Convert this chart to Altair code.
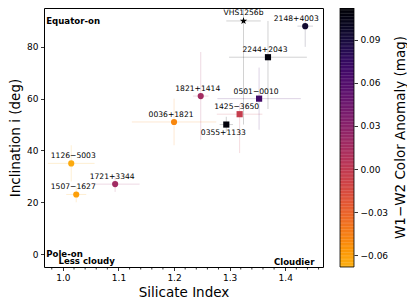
import altair as alt
import pandas as pd

# ---- data ----
names = ["VHS1256b", "2148+4003", "2244+2043", "0501−0010", "1425−3650", "0355+1133",
         "1821+1414", "0036+1821", "1126−5003", "1507−1627", "1721+3344"]
silicate = [1.325, 1.436, 1.369, 1.353, 1.318, 1.294, 1.248, 1.200, 1.015, 1.024, 1.094]
silicate_err = [0.031, 0.014, 0.070, 0.075, 0.041, 0.012, 0.014, 0.076, 0.042, 0.018, 0.044]
inclination = [90, 88, 76, 60, 54, 50, 61, 51, 35, 23, 27]
incl_err_lo = [40, 8, 20, 12, 15, 3, 17, 9, 7, 3, 3]
incl_err_hi = [5, 2, 14, 12, 4, 3, 17, 9, 7, 3, 3]
color_anomaly = [None, 0.094, 0.108, 0.068, -0.004, 0.108, 0.016, -0.050, -0.066, -0.061, 0.017]
marker = ["star", "circle", "square", "square", "square", "square",
          "circle", "circle", "circle", "circle", "circle"]

x_ticks = [1.0, 1.1, 1.2, 1.3, 1.4]
x_minor = [0.98, 1.02, 1.04, 1.06, 1.08, 1.12, 1.14, 1.16, 1.18, 1.22, 1.24, 1.26, 1.28,
           1.32, 1.34, 1.36, 1.38, 1.42, 1.44, 1.46]
y_ticks = [0, 10, 20, 30, 40, 50, 60, 70, 80, 90]
cbar_ticks = [-0.06, -0.03, 0.0, 0.03, 0.06, 0.09]
cbar_domain = [-0.068, 0.112]
cbar_title = "W1−W2 Color Anomaly (mag)"

ann_text = ["Equator-on", "Pole-on", "Less cloudy", "Cloudier"]
ann_x = [0.970, 0.970, 0.992, 1.4525]
ann_y = [90, 0, -2.6, -2.9]
ann_align = ["left", "left", "left", "right"]

# label offsets (pixels) relative to each point
label_dx = [0, -9, -3, -3, -3, -3, -3, -3, 2, -3, -3]
label_dy = [-8, -7, -7, -7, -7, 8, -7, -7, -7, -7, -7]

STAR = ("M0,-1L0.2245,-0.309L0.951,-0.309L0.363,0.118L0.588,0.809L0,0.382"
        "L-0.588,0.809L-0.363,0.118L-0.951,-0.309L-0.2245,-0.309Z")

df = pd.DataFrame({
    "name": names, "si": silicate, "si_err": silicate_err, "inc": inclination,
    "lo": incl_err_lo, "hi": incl_err_hi, "anom": color_anomaly, "marker": marker,
})
df["si_lo"] = df["si"] - df["si_err"]
df["si_hi"] = df["si"] + df["si_err"]
df["inc_lo"] = df["inc"] - df["lo"]
df["inc_hi"] = df["inc"] + df["hi"]

df_c = df[df["anom"].notna()].reset_index(drop=True)
df_s = df[df["anom"].isna()].reset_index(drop=True).drop(columns=["anom"])

FONT = "DejaVu Sans"
xdom = [0.966, 1.468]
ydom = [-5, 95]
W, H = 279, 259

xs = alt.Scale(domain=xdom, nice=False, zero=False)
ys = alt.Scale(domain=ydom, nice=False, zero=False)
xax = alt.Axis(values=x_ticks, format=".1f")
yax = alt.Axis(values=y_ticks, format="d")

X = alt.X("si:Q", scale=xs, title="Silicate Index", axis=xax)
Y = alt.Y("inc:Q", scale=ys, title="Inclination i (deg)", axis=yax)

cscale = alt.Scale(domain=cbar_domain,
                   scheme=alt.SchemeParams(name="inferno", extent=[0.82, 0]))
C = alt.Color("anom:Q", scale=cscale, legend=None)

base = alt.Chart(df_c)

xerr = base.mark_rule(opacity=0.18, strokeWidth=1).encode(
    x=alt.X("si_lo:Q", scale=xs, title="Silicate Index", axis=xax),
    x2="si_hi:Q", y=Y, color=C)
yerr = base.mark_rule(opacity=0.18, strokeWidth=1).encode(
    x=X, y=alt.Y("inc_lo:Q", scale=ys, title="Inclination i (deg)", axis=yax),
    y2="inc_hi:Q", color=C)
pts = base.mark_point(filled=True, opacity=1, size=38).encode(
    x=X, y=Y, color=C, shape=alt.Shape("marker:N", scale=None))

sbase = alt.Chart(df_s)
s_xerr = sbase.mark_rule(opacity=0.18, strokeWidth=1, color="black").encode(
    x="si_lo:Q", x2="si_hi:Q", y="inc:Q")
s_yerr = sbase.mark_rule(opacity=0.18, strokeWidth=1, color="black").encode(
    x="si:Q", y="inc_lo:Q", y2="inc_hi:Q")
s_pt = sbase.mark_point(filled=True, opacity=1, size=60, color="black", shape=STAR).encode(
    x="si:Q", y="inc:Q")

labels = []
for i, n in enumerate(names):
    labels.append(
        alt.Chart(df[df["name"] == n][["name", "si", "inc"]]).mark_text(
            font=FONT, fontSize=7.6, color="black", dx=label_dx[i], dy=label_dy[i],
            align="center", baseline="middle"
        ).encode(x="si:Q", y="inc:Q", text="name:N")
    )

ann_df = pd.DataFrame({"t": ann_text, "x": ann_x, "y": ann_y, "a": ann_align})
ann_l = alt.Chart(ann_df[ann_df["a"] == "left"]).mark_text(
    font=FONT, fontSize=8.6, fontWeight="bold", color="black", align="left", baseline="middle"
).encode(x="x:Q", y="y:Q", text="t:N")
ann_r = alt.Chart(ann_df[ann_df["a"] == "right"]).mark_text(
    font=FONT, fontSize=8.6, fontWeight="bold", color="black", align="right", baseline="middle"
).encode(x="x:Q", y="y:Q", text="t:N")

minor_df = pd.DataFrame({"m": x_minor})
minor = alt.Chart(minor_df).mark_rule(color="black", strokeWidth=0.8).encode(
    x="m:Q", y=alt.value(H), y2=alt.value(H + 2.5))

main = alt.layer(xerr, yerr, s_xerr, s_yerr, pts, s_pt, *labels, ann_l, ann_r, minor)

# ---- colorbar (own y scale, drawn right of the plot) ----
CB_X0, CB_X1 = 296, 310
cb_scale = alt.Scale(domain=cbar_domain, nice=False, zero=False)
cbar = alt.Chart(alt.sequence(start=-0.068, stop=0.112, step=0.001, as_="v")).transform_calculate(
    v2="datum.v + 0.0012"
).mark_rect().encode(
    x=alt.value(CB_X0), x2=alt.value(CB_X1),
    y=alt.Y("v:Q", scale=cb_scale, title=None,
            axis=alt.Axis(orient="right", offset=CB_X1 - W, values=cbar_ticks, format=".2f",
                          tickSize=3.5, labelPadding=2.5)),
    y2="v2:Q",
    color=alt.Color("v:Q", scale=cscale, legend=None),
)
cb_frame = alt.Chart(pd.DataFrame({"t": [cbar_title]})).mark_rect(
    fill=None, stroke="black", strokeWidth=0.8
).encode(x=alt.value(CB_X0), x2=alt.value(CB_X1), y=alt.value(0), y2=alt.value(H))
cb_title = alt.Chart(pd.DataFrame({"t": [cbar_title]})).mark_text(
    font=FONT, fontSize=13.5, color="black", angle=270, align="center", baseline="middle"
).encode(x=alt.value(357), y=alt.value(H / 2), text="t:N")

chart = alt.layer(main, cbar, cb_frame, cb_title).resolve_scale(
    y="independent"
).properties(
    width=W, height=H,
    autosize=alt.AutoSizeParams(type="none"),
    padding={"left": 36, "top": 0, "right": 84, "bottom": 33},
).configure_view(
    stroke="black", strokeWidth=1
).configure_axis(
    grid=False, domain=False, tickColor="black", tickSize=3.5, tickWidth=0.8,
    labelFont=FONT, labelFontSize=9, labelColor="black", labelPadding=2.5,
    titleFont=FONT, titleFontSize=13.5, titleFontWeight="normal", titleColor="black",
).configure_axisX(titlePadding=3, labelFlush=False).configure_axisY(titlePadding=4)

chart.save("out.html", embed_options={"renderer": "svg", "actions": False})
